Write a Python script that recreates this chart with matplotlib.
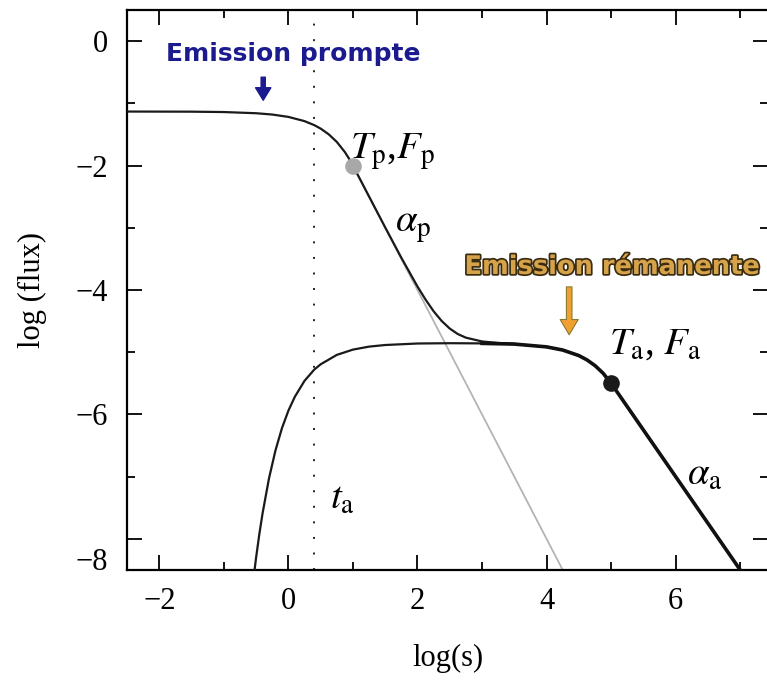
import numpy as np
import matplotlib.pyplot as plt
import matplotlib.patheffects as pe

plt.rcParams['font.family'] = ['Liberation Serif', 'DejaVu Serif']
plt.rcParams['mathtext.fontset'] = 'stix'

# Courbe totale (prompte + rémanente)
total_x = [-2.5, -1.5, -1.0, -0.5, -0.25, 0.0, 0.25, 0.4, 0.5, 0.625, 0.75, 0.875, 0.95, 1.0,
           1.25, 1.5, 1.75, 2.0, 2.125, 2.25, 2.375, 2.5, 2.625, 2.75, 3.0, 3.25, 3.5]
total_y = [-1.132, -1.134, -1.140, -1.159, -1.180, -1.218, -1.286, -1.350, -1.406, -1.498, -1.620,
           -1.783, -1.906, -2.0, -2.498, -2.994, -3.482, -3.944, -4.154, -4.342, -4.498, -4.620,
           -4.708, -4.766, -4.827, -4.851, -4.866]

# Composante rémanente
after_x = [-0.55, -0.5, -0.45, -0.4, -0.3, -0.2, -0.1, 0.0, 0.1, 0.25, 0.4, 0.5, 0.75, 1.0, 1.25,
           1.5, 2.0, 2.5, 3.0, 3.5, 4.0, 4.25, 4.5, 4.625, 4.75, 4.875, 5.0, 6.0, 7.0]
after_y = [-8.72, -8.30, -7.924, -7.59, -7.026, -6.578, -6.222, -5.94, -5.716, -5.46, -5.28, -5.194,
           -5.043, -4.958, -4.910, -4.884, -4.860, -4.855, -4.858, -4.869, -4.914, -4.965, -5.054,
           -5.123, -5.215, -5.337, -5.5, -7.0, -8.5]

# Prolongement de la loi de puissance prompte (gris)
prompt_x = [1.0, 4.25]
prompt_y = [-2.0, -8.5]

# Points de cassure
Tp, Fp = 1.0, -2.0
Ta, Fa = 5.0, -5.5
ta = 0.4

xticks = [-2, 0, 2, 4, 6]
yticks = [0, -2, -4, -6, -8]

fig = plt.figure(figsize=(7.67, 6.86), dpi=100)
ax = fig.add_axes([127 / 767, 1 - 570 / 686, 641 / 767, 560 / 686])

ax.plot(prompt_x, prompt_y, color='#b4b4b4', lw=1.3, zorder=2)
ax.plot(total_x, total_y, color='#1a1a1a', lw=1.6, zorder=3)
ax.plot(after_x, after_y, color='#1a1a1a', lw=1.6, zorder=3)
ax_arr = np.array(after_x)
m = ax_arr >= 2.75
ax.plot(ax_arr[m], np.array(after_y)[m], color='#111111', lw=2.6, zorder=3)

ax.axvline(ta, color='#222222', lw=1.4, linestyle=(0, (1, 7)), zorder=1)

ax.plot(Tp, Fp, 'o', ms=12, color='#a8a8a8', mec='none', zorder=4)
ax.plot(Ta, Fa, 'o', ms=12, color='#1a1a1a', mec='none', zorder=4)

# Etiquettes
ax.text(0.96, -1.90, r'$T_{\rm p}$,$F_{\rm p}$', fontsize=28, va='baseline')
ax.text(1.65, -3.06, r'$\alpha_{\rm p}$', fontsize=28, va='baseline')
ax.text(4.96, -5.03, r'$T_{\rm a}$, $F_{\rm a}$', fontsize=28, va='baseline')
ax.text(6.17, -7.14, r'$\alpha_{\rm a}$', fontsize=28, va='baseline')
ax.text(0.65, -7.52, r'$t_{\rm a}$', fontsize=28, va='baseline')

ax.text(0.08, -0.21, 'Emission prompte', fontsize=18, fontweight='bold', color='#1b1b8f',
        family='DejaVu Sans', ha='center', va='center')
ax.annotate('', xy=(-0.39, -0.95), xytext=(-0.39, -0.58),
            arrowprops=dict(width=3, headwidth=11, headlength=9, color='#1b1b8f'))

ax.text(5.02, -3.63, 'Emission rémanente', fontsize=18.5, fontweight='bold', color='#d6a24a',
        family='DejaVu Sans', ha='center', va='center',
        path_effects=[pe.withStroke(linewidth=2.5, foreground='#3a2c10')])
ax.annotate('', xy=(4.35, -4.72), xytext=(4.35, -3.95),
            arrowprops=dict(width=4, headwidth=13, headlength=11, facecolor='#f0a030',
                            edgecolor='#8a7a30', lw=0.8))

ax.set_xlim(-2.5, 7.43)
ax.set_ylim(-8.5, 0.5)
ax.set_xticks(xticks)
ax.set_xticks([-1, 1, 3, 5, 7], minor=True)
ax.set_yticks(yticks)
ax.set_yticklabels(['0', '\u22122', '\u22124', '\u22126', ''])
ax.set_yticks([-1, -3, -5, -7], minor=True)
ax.tick_params(which='both', direction='in', top=True, right=True, width=1.3)
ax.tick_params(which='major', length=11, labelsize=22)
ax.tick_params(which='minor', length=6)
ax.tick_params(axis='x', pad=12)
ax.tick_params(axis='y', pad=14)
ax.annotate('\u22128', xy=(0, -8), xycoords=('axes fraction', 'data'), xytext=(-14, -17),
            textcoords='offset points', ha='right', va='center', fontsize=22)
for s in ax.spines.values():
    s.set_linewidth(1.6)

ax.set_xlabel('log(s)', fontsize=22)
ax.set_ylabel('log (flux)', fontsize=22)
ax.xaxis.set_label_coords(0.5, -0.132)
ax.yaxis.set_label_coords(-0.125, 0.5)

fig.savefig('out.png', dpi=100)
